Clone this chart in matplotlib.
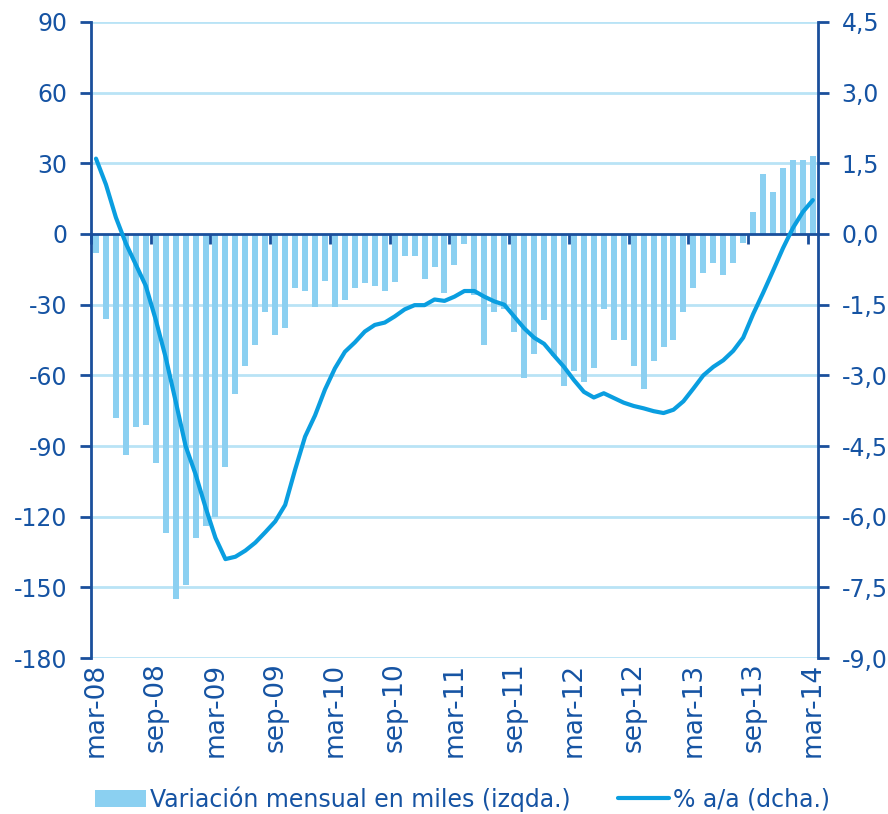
import numpy as np
import matplotlib
matplotlib.use("Agg")
import matplotlib.pyplot as plt
import matplotlib.transforms as mtransforms

# =========================
# DATOS
# =========================
# variacion mensual en miles (mar-08 .. mar-14)
variacion = [
    -8, -36, -78, -94, -82, -81, -97, -127, -155, -149,            # 2008 mar-dic
    -129, -124, -120, -99, -68, -56, -47, -33, -43, -40, -23, -24,  # 2009
    -31, -20, -31, -28, -23, -21, -22, -24, -20.5, -9.5, -9.5, -19, # 2010
    -14, -25, -13, -4.4, -26, -47, -33, -32, -41.5, -61, -51, -36.5,  # 2011
    -52, -64.5, -58, -63, -57, -32, -45, -45, -56, -66, -54, -48,   # 2012
    -45, -33, -23, -16.6, -12.3, -17.4, -12.3, -3.8, 9.5, 25.6, 18, 28,  # 2013
    31.5, 31.5, 33,                                                  # 2014 ene-mar
]

# % a/a (eje derecho)
tasa_aa = [
    1.6, 1.05, 0.35, -0.2, -0.65, -1.1, -1.82, -2.62, -3.55, -4.5,
    -5.1, -5.8, -6.45, -6.9, -6.85, -6.72, -6.55, -6.33, -6.1, -5.75,
    -5.0, -4.3, -3.85, -3.3, -2.85, -2.5, -2.3, -2.07, -1.93, -1.88,
    -1.75, -1.6, -1.51, -1.51, -1.39, -1.42, -1.33, -1.21, -1.21, -1.33,
    -1.43, -1.5, -1.75, -2.0, -2.2, -2.33, -2.58, -2.82, -3.1, -3.35,
    -3.47, -3.38, -3.48, -3.58, -3.65, -3.7, -3.76, -3.8, -3.73, -3.55,
    -3.28, -3.0, -2.82, -2.68, -2.48, -2.2, -1.7, -1.25, -0.78, -0.3,
    0.13, 0.47, 0.72,
]

etiquetas_x = ["mar-08", "sep-08", "mar-09", "sep-09", "mar-10", "sep-10",
               "mar-11", "sep-11", "mar-12", "sep-12", "mar-13", "sep-13", "mar-14"]

ticks_izq = [90, 60, 30, 0, -30, -60, -90, -120, -150, -180]
ticks_dcha = [4.5, 3.0, 1.5, 0.0, -1.5, -3.0, -4.5, -6.0, -7.5, -9.0]

# =========================
# ESTILO
# =========================
azul_texto = "#1553a3"
azul_eje = "#1a4f9c"
azul_grid = "#b9e3f6"
azul_barra = "#8bd0f1"
azul_linea = "#0a9ee0"

plt.rcParams["font.family"] = ["DejaVu Sans"]

fig = plt.figure(figsize=(8.88, 8.14), dpi=100)
ax = fig.add_axes([0.1025, 0.1916, 0.8185, 0.7814])
ax2 = ax.twinx()

x = np.arange(len(variacion))

# barras
ax.bar(x, variacion, width=0.6, color=azul_barra, zorder=2,
       label="Variación mensual en miles (izqda.)")

ax.set_xlim(-0.5, len(variacion) - 0.5)
ax.set_ylim(-180, 90)
ax.set_yticks(ticks_izq)
ax.set_yticklabels([str(t) for t in ticks_izq])

# rejilla horizontal
for t in ticks_izq:
    if t != 0:
        ax.axhline(t, color=azul_grid, lw=2, zorder=0)

# eje horizontal en cero con marcas cada 6 meses
ax.spines["bottom"].set_position(("data", 0))
ax.spines["bottom"].set_color(azul_eje)
ax.spines["bottom"].set_linewidth(2)
ax.spines["bottom"].set_zorder(3)
ax.set_xticks(np.arange(-0.5, len(variacion), 6))
ax.set_xticklabels([])
ax.tick_params(axis="x", direction="out", length=7, width=2, color=azul_eje)

ax.spines["top"].set_visible(False)
ax.spines["right"].set_visible(False)
ax.spines["left"].set_color(azul_eje)
ax.spines["left"].set_linewidth(2)
ax.tick_params(axis="y", direction="out", length=8, width=2, color=azul_eje,
               labelcolor=azul_texto, labelsize=17, pad=9)

# etiquetas de fecha en la parte inferior
trans = mtransforms.blended_transform_factory(ax.transData, ax.transAxes)
for i, lab in enumerate(etiquetas_x):
    ax.text(i * 6, -0.007, lab, transform=trans, rotation=90, ha="center",
            va="top", fontsize=19, color=azul_texto)

# linea % a/a
ax2.plot(x, tasa_aa, color=azul_linea, lw=3, zorder=4,
         solid_capstyle="round", label="% a/a (dcha.)")
ax2.set_ylim(-9.0, 4.5)
ax2.set_yticks(ticks_dcha)
ax2.set_yticklabels([f"{t:.1f}".replace(".", ",") for t in ticks_dcha])
ax2.spines["top"].set_visible(False)
ax2.spines["left"].set_visible(False)
ax2.spines["bottom"].set_visible(False)
ax2.spines["right"].set_color(azul_eje)
ax2.spines["right"].set_linewidth(2)
ax2.tick_params(axis="y", direction="out", length=8, width=2, color=azul_eje,
                labelcolor=azul_texto, labelsize=17, pad=9)

# leyenda
h1, l1 = ax.get_legend_handles_labels()
h2, l2 = ax2.get_legend_handles_labels()
leg = fig.legend(h1 + h2, l1 + l2, loc="lower center", bbox_to_anchor=(0.521, 0.003),
                 ncol=2, frameon=False, fontsize=17, handlelength=2.16,
                 handletextpad=0.17, columnspacing=2.0, borderaxespad=0,
                 borderpad=0)
for t in leg.get_texts():
    t.set_color(azul_texto)

fig.savefig("out.png", dpi=100)
